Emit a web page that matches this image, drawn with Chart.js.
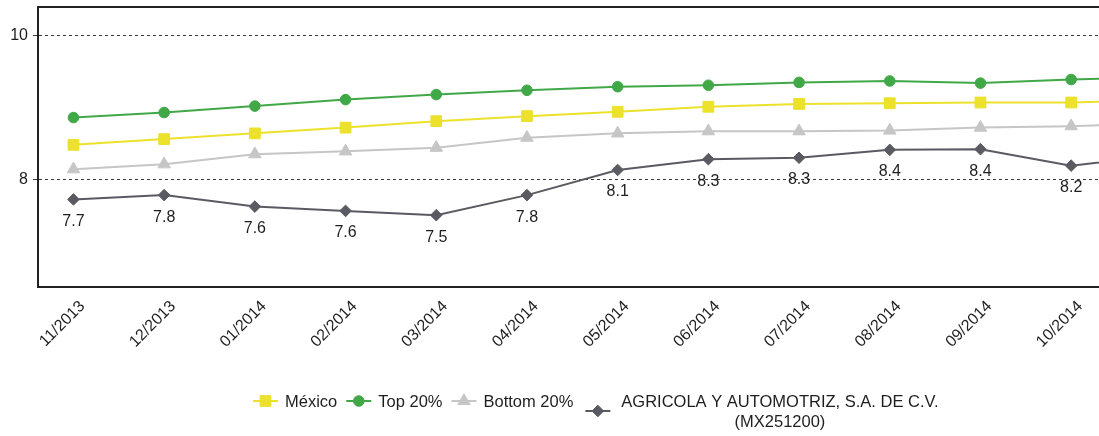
<!DOCTYPE html>
<html>
<head>
<meta charset="utf-8">
<title>Índice mensual</title>
<script src="https://cdn.jsdelivr.net/npm/chart.js@4.4.1/dist/chart.umd.min.js"></script>
<style>
  html, body { margin: 0; padding: 0; background: #ffffff; overflow: hidden; }
  #wrap { position: relative; width: 1099px; height: 436px; }
</style>
</head>
<body>
<div id="wrap"><canvas id="chart"></canvas></div>
<script>
// Monthly categories (the last month continues past the right edge of the plot)
const months = ['11/2013', '12/2013', '01/2014', '02/2014', '03/2014', '04/2014',
                '05/2014', '06/2014', '07/2014', '08/2014', '09/2014', '10/2014', '11/2014'];

// Series values
const mexico   = [8.48, 8.56, 8.64, 8.72, 8.81, 8.88, 8.94, 9.01, 9.05, 9.06, 9.07, 9.07, 9.10];
const top20    = [8.86, 8.93, 9.02, 9.11, 9.18, 9.24, 9.29, 9.31, 9.35, 9.37, 9.34, 9.39, 9.42];
const bottom20 = [8.14, 8.21, 8.35, 8.39, 8.44, 8.58, 8.64, 8.67, 8.67, 8.68, 8.72, 8.74, 8.78];
const company  = [7.72, 7.78, 7.62, 7.56, 7.50, 7.78, 8.13, 8.28, 8.30, 8.41, 8.42, 8.19, 8.33];

// Value-axis tick labels
const yTicks = [8, 10];

const seriesLabels = ['México', 'Top 20%', 'Bottom 20%',
                      ['AGRICOLA Y AUTOMOTRIZ, S.A. DE C.V.', '(MX251200)']];

const FONT_FAMILY = '"Liberation Sans", Arial, Helvetica, sans-serif';
const TEXT_COLOR = '#1e1e1e';
const COLORS = {
  mexico: '#ECE12B',
  top: '#41A847',
  bottom: '#C6C6C6',
  company: '#5A5A62'
};

const toPoints = arr => arr.map((y, i) => ({ x: i, y }));

function lineSeries(label, values, color, style, radius) {
  return {
    label,
    data: toPoints(values),
    borderColor: color,
    backgroundColor: color,
    borderWidth: 2,
    pointStyle: style,
    pointRadius: radius,
    pointBorderWidth: 1,
    pointBorderColor: color,
    pointBackgroundColor: color,
    tension: 0
  };
}

// Top edge of the plot frame
const frameTop = {
  id: 'frameTop',
  afterDraw(chart) {
    const { ctx, chartArea } = chart;
    ctx.save();
    ctx.strokeStyle = '#222';
    ctx.lineWidth = 2;
    ctx.beginPath();
    ctx.moveTo(chartArea.left, chartArea.top);
    ctx.lineTo(chartArea.right, chartArea.top);
    ctx.stroke();
    ctx.restore();
  }
};

// Value labels under the company series
const valueLabels = {
  id: 'valueLabels',
  afterDatasetsDraw(chart) {
    const { ctx, chartArea } = chart;
    const meta = chart.getDatasetMeta(3);
    ctx.save();
    ctx.font = '16px ' + FONT_FAMILY;
    ctx.fillStyle = TEXT_COLOR;
    ctx.textAlign = 'center';
    ctx.textBaseline = 'middle';
    meta.data.forEach((pt, i) => {
      if (pt.x > chartArea.right) return;
      ctx.fillText(company[i].toFixed(1), pt.x, pt.y + 22);
    });
    ctx.restore();
  }
};

function drawMarker(ctx, style, x, y, r, color) {
  ctx.fillStyle = color;
  ctx.strokeStyle = color;
  ctx.lineWidth = 1;
  ctx.beginPath();
  if (style === 'rect') {
    const s = r * Math.SQRT1_2;
    ctx.rect(x - s, y - s, 2 * s, 2 * s);
  } else if (style === 'circle') {
    ctx.arc(x, y, r, 0, Math.PI * 2);
  } else if (style === 'triangle') {
    ctx.moveTo(x, y - r);
    ctx.lineTo(x + r * Math.sin(Math.PI / 3), y + r / 2);
    ctx.lineTo(x - r * Math.sin(Math.PI / 3), y + r / 2);
    ctx.closePath();
  } else if (style === 'rectRot') {
    ctx.moveTo(x - r, y);
    ctx.lineTo(x, y - r);
    ctx.lineTo(x + r, y);
    ctx.lineTo(x, y + r);
    ctx.closePath();
  }
  ctx.fill();
  ctx.stroke();
}

// Legend row below the axis, with a two-line entry for the company
const bottomLegend = {
  id: 'bottomLegend',
  afterDraw(chart) {
    const { ctx } = chart;
    const lineLen = 25, left = 253;
    const rowY = chart.height - 34, lineStep = 20;
    ctx.save();
    ctx.font = '16.5px ' + FONT_FAMILY;
    let x = left;
    chart.data.datasets.forEach((ds, idx) => {
      const lines = Array.isArray(ds.label) ? ds.label : [ds.label];
      const multi = lines.length > 1;
      const w = Math.max(...lines.map(t => ctx.measureText(t).width));
      if (idx > 0) x += multi ? 12 : 9;
      const textGap = multi ? 11 : 7;
      const markerY = rowY + (lines.length - 1) * lineStep / 2 - 1;
      ctx.strokeStyle = ds.borderColor;
      ctx.lineWidth = 2;
      ctx.beginPath();
      ctx.moveTo(x, markerY);
      ctx.lineTo(x + lineLen, markerY);
      ctx.stroke();
      drawMarker(ctx, ds.pointStyle, x + lineLen / 2, markerY, ds.pointRadius, ds.borderColor);
      const tx = x + lineLen + textGap;
      ctx.fillStyle = TEXT_COLOR;
      ctx.textBaseline = 'middle';
      lines.forEach((t, k) => {
        if (k === 0) {
          ctx.textAlign = 'left';
          ctx.fillText(t, tx, rowY);
        } else {
          ctx.textAlign = 'center';
          ctx.fillText(t, tx + w / 2, rowY + k * lineStep);
        }
      });
      x = tx + w;
    });
    ctx.restore();
  }
};

new Chart(document.getElementById('chart'), {
  type: 'line',
  data: {
    datasets: [
      lineSeries(seriesLabels[0], mexico, COLORS.mexico, 'rect', 7.6),
      lineSeries(seriesLabels[1], top20, COLORS.top, 'circle', 5.3),
      lineSeries(seriesLabels[2], bottom20, COLORS.bottom, 'triangle', 7.2),
      lineSeries(seriesLabels[3], company, COLORS.company, 'rectRot', 5.8)
    ]
  },
  options: {
    responsive: true,
    maintainAspectRatio: false,
    animation: false,
    events: [],
    layout: { autoPadding: false, padding: { top: 7, left: 0, right: 0, bottom: 0 } },
    plugins: {
      legend: { display: false },
      tooltip: { enabled: false }
    },
    scales: {
      x: {
        type: 'linear',
        min: -0.391,
        max: 11.307,
        afterBuildTicks: scale => {
          scale.ticks = months.map((m, i) => ({ value: i })).filter(t => t.value <= scale.max);
        },
        afterFit: scale => {
          scale.height = 149;
          scale.paddingLeft = 0;
          scale.paddingRight = 0;
        },
        ticks: {
          autoSkip: false,
          minRotation: 45,
          maxRotation: 45,
          padding: 2,
          labelOffset: 9,
          color: TEXT_COLOR,
          font: { family: FONT_FAMILY, size: 16 },
          callback: value => months[value]
        },
        grid: { display: false },
        border: { display: true, color: '#222', width: 2 }
      },
      y: {
        min: 6.5,
        max: 10.4,
        afterBuildTicks: scale => {
          scale.ticks = yTicks.map(v => ({ value: v }));
        },
        afterFit: scale => {
          scale.width = 38;
          scale.paddingTop = 0;
          scale.paddingBottom = 0;
        },
        ticks: {
          padding: 5,
          color: TEXT_COLOR,
          font: { family: FONT_FAMILY, size: 16 }
        },
        grid: { color: '#3a3a3a', lineWidth: 1, tickLength: 5 },
        border: { display: true, color: '#222', width: 2, dash: [3, 3] }
      }
    }
  },
  plugins: [frameTop, valueLabels, bottomLegend]
});
</script>
</body>
</html>
